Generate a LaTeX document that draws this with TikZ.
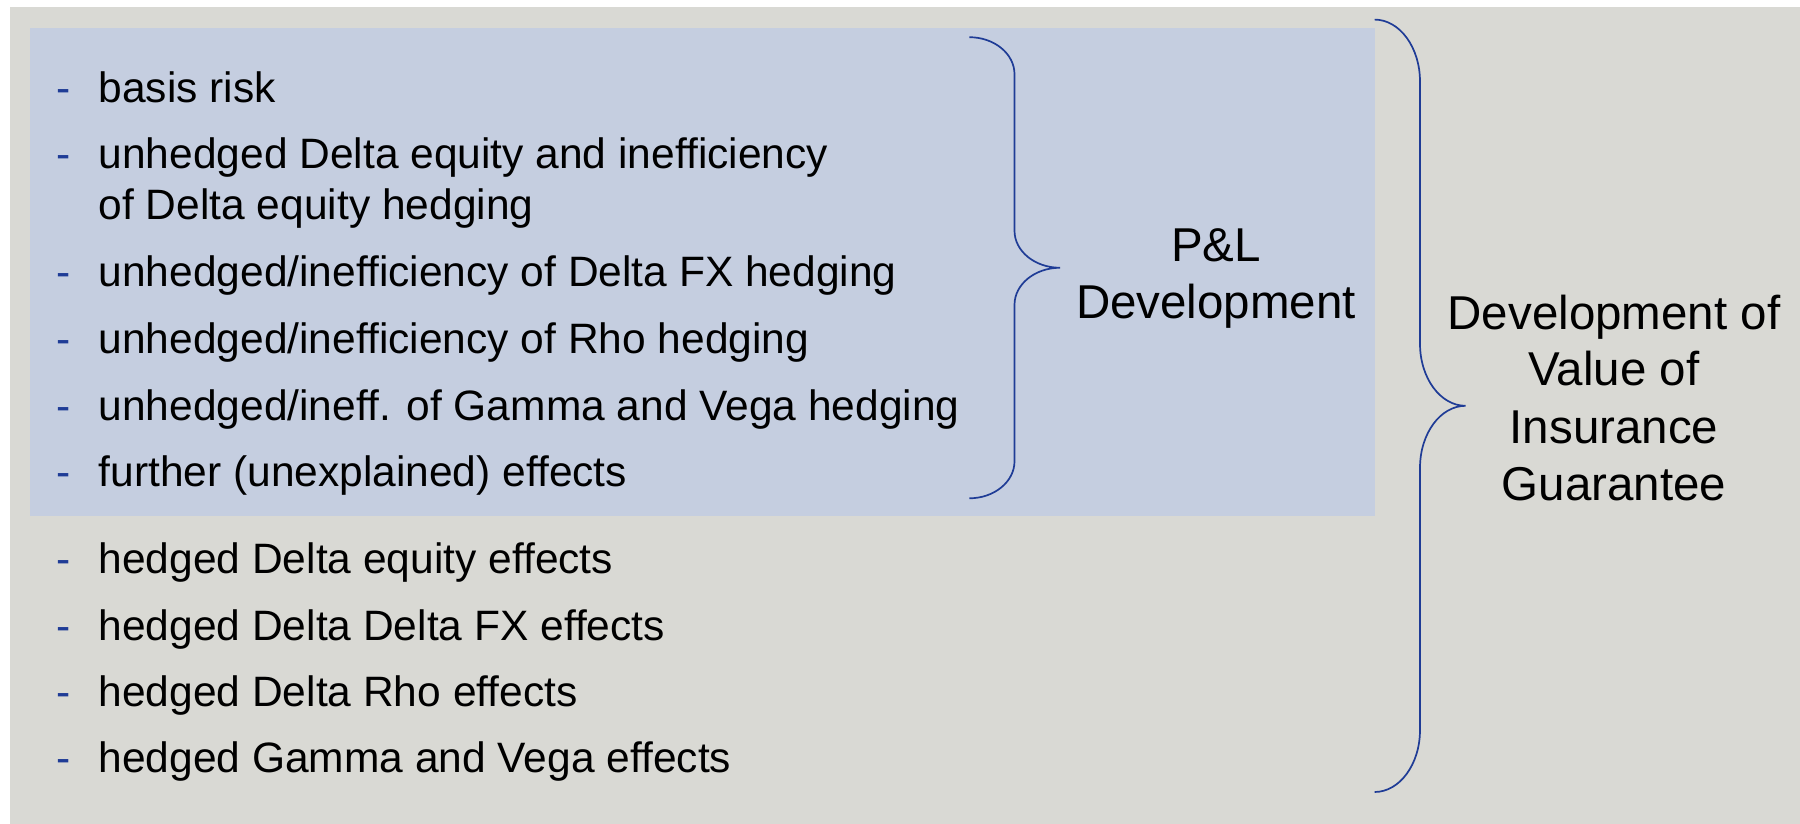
\documentclass[tikz,border=0pt]{standalone}
\usepackage{fontspec}
\setmainfont{Liberation Sans}
\definecolor{pagegrey}{HTML}{D9D9D4}
\definecolor{panelblue}{HTML}{C5CEE0}
\definecolor{bracecol}{HTML}{1F3C96}

% curly brace opening to the right:
% #1 x of the ends, #2 x of the stem, #3 x of the tip,
% #4 top y, #5 tip y, #6 bottom y, #7 corner radius
\newcommand\curlybrace[7]{%
  \draw[braceline] (#1,#4)
    .. controls ({#1+0.552*(#2-#1)},#4) and (#2,{#4+0.448*#7}) .. (#2,{#4+#7})
    -- (#2,{#5-#7})
    .. controls (#2,{#5-0.448*#7}) and ({#3-0.552*(#3-#2)},#5) .. (#3,#5)
    .. controls ({#3-0.552*(#3-#2)},#5) and (#2,{#5+0.448*#7}) .. (#2,{#5+#7})
    -- (#2,{#6-#7})
    .. controls (#2,{#6-0.448*#7}) and ({#1+0.552*(#2-#1)},#6) .. (#1,#6);}

\begin{document}
\begin{tikzpicture}[x=0.5pt,y=-0.5pt,
  listitem/.style={anchor=base west, inner sep=0pt,
    font=\fontsize{21.25pt}{25.5pt}\selectfont},
  dashmark/.style={anchor=base west, inner sep=0pt, text=bracecol,
    font=\fontsize{21.25pt}{25.5pt}\selectfont},
  sumtext/.style={anchor=base, inner sep=0pt,
    font=\fontsize{23.75pt}{28.5pt}\selectfont},
  braceline/.style={draw=bracecol, line width=0.85pt}]

% page, grey panel and the blue P&L area
\fill[white] (0,0) rectangle (1800,824);
\fill[pagegrey] (9.5,7) rectangle (1800,824);
\fill[panelblue] (30,28.2) rectangle (1374.6,515.5);
\useasboundingbox (0,0) rectangle (1800,824);

% list of effects
\node[dashmark] (d1) at (56.4,102.3) {-};
\node[listitem] (i1) at (98.3,102.3) {basis risk};
\node[dashmark] (d2) at (56.4,168.3) {-};
\node[listitem] (i2) at (98.3,168.3) {unhedged Delta equity and inefficiency};
\node[listitem] (i2b) at (98.3,219.3) {of Delta equity hedging};
\node[dashmark] (d3) at (56.4,286.7) {-};
\node[listitem] (i3) at (98.3,286.7) {unhedged/inefficiency of Delta FX hedging};
\node[dashmark] (d4) at (56.4,353.3) {-};
\node[listitem] (i4) at (98.3,353.3) {unhedged/inefficiency of Rho hedging};
\node[dashmark] (d5) at (56.4,420) {-};
\node[listitem] (i5) at (98.3,420) {unhedged/ineff. of Gamma and Vega hedging};
\node[dashmark] (d6) at (56.4,486) {-};
\node[listitem] (i6) at (98.3,486) {further (unexplained) effects};

\node[dashmark] (d7) at (56.4,573.3) {-};
\node[listitem] (i7) at (98.3,573.3) {hedged Delta equity effects};
\node[dashmark] (d8) at (56.4,640) {-};
\node[listitem] (i8) at (98.3,640) {hedged Delta Delta FX effects};
\node[dashmark] (d9) at (56.4,706) {-};
\node[listitem] (i9) at (98.3,706) {hedged Delta Rho effects};
\node[dashmark] (d10) at (56.4,772.7) {-};
\node[listitem] (i10) at (98.3,772.7) {hedged Gamma and Vega effects};

% braces
\curlybrace{969.3}{1014.5}{1060}{37.2}{267.75}{498.3}{37}
\curlybrace{1374.6}{1420}{1465.5}{19.6}{405.8}{792}{62}

% summary labels
\node[sumtext] (pl1) at (1216,261.7) {P\&L};
\node[sumtext] (pl2) at (1216,318.5) {Development};

\node[sumtext] (dv1) at (1614,329) {Development of};
\node[sumtext] (dv2) at (1614,385.7) {Value of};
\node[sumtext] (dv3) at (1614,443.3) {Insurance};
\node[sumtext] (dv4) at (1614,500.7) {Guarantee};
\end{tikzpicture}
\end{document}
